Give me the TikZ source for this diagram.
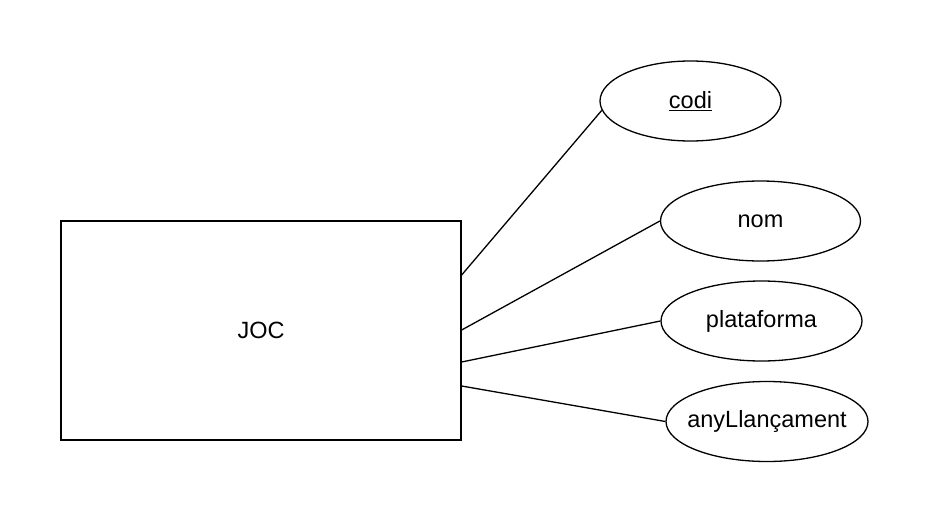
\documentclass[tikz,border=0pt]{standalone}
\usepackage{fontspec}
\setmainfont{Liberation Sans}
\usetikzlibrary{shapes.geometric}

\begin{document}
\begin{tikzpicture}[x=1pt, y=-1pt, line width=1.3pt,
	every node/.style={font=\fontsize{23.5}{27}\selectfont},
	ent/.style={draw, rectangle, minimum width=400pt, minimum height=219pt},
	atr/.style={draw, ellipse, inner sep=0pt, minimum width=200pt, minimum height=80pt}]
	\useasboundingbox (0,0) rectangle (928,524);

	\node[ent] (joc) at (261,330.5) {JOC};

	\node[atr, minimum width=181pt] (codi) at (690.5,101) {\underline{codi}};
	\node[atr] (nom) at (760.5,221) {nom};
	\node[atr, minimum width=201pt] (plat) at (761.5,321) {plataforma};
	% text kept out of the shape size
	\node[atr, minimum width=202pt] (any) at (767,421.5) {\makebox[0pt]{anyLlançament}};

	\draw ([yshift=55.5pt]joc.east) -- (codi.186);
	\draw ([yshift=0.5pt]joc.east) -- (nom.west);
	\draw ([yshift=-31.5pt]joc.east) -- (plat.west);
	\draw ([yshift=-55.5pt]joc.east) -- (any.west);
\end{tikzpicture}
\end{document}
